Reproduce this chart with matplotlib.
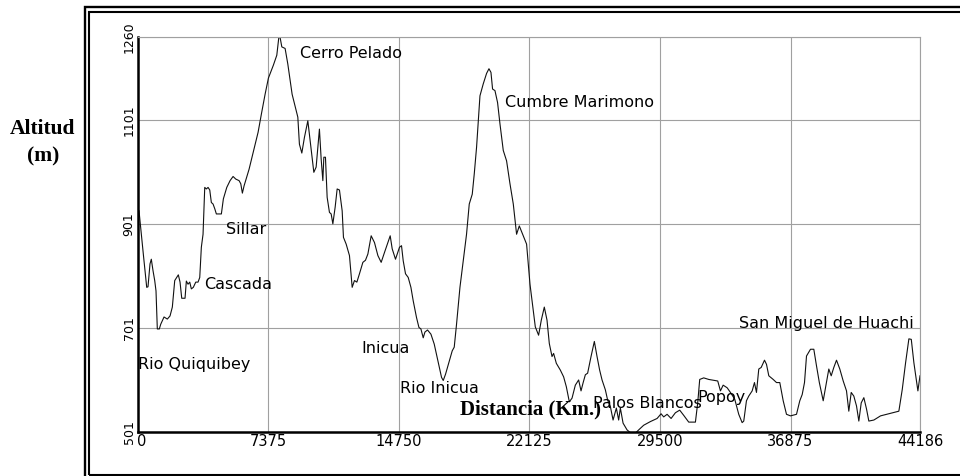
import matplotlib.pyplot as plt
from matplotlib.patches import Rectangle
from matplotlib.transforms import Bbox, TransformedBbox

# perfil de altitud a lo largo del recorrido
distancia = [0, 85, 215, 328, 520, 593, 706, 780, 876, 972, 1045, 1119, 1232, 1311, 1498,
             1684, 1837, 1967, 2102, 2215, 2306, 2402, 2498, 2684, 2758, 2854, 2950, 3040,
             3153, 3289, 3419, 3515, 3605, 3701, 3797, 3888, 3984, 4080, 4170, 4267, 4363,
             4453, 4736, 4849, 5041, 5227, 5397, 5549, 5736, 5832, 5922, 6018, 6301, 6583,
             6810, 6996, 7205, 7392, 7674, 7866, 7979, 8053, 8149, 8335, 8488, 8731, 8917,
             9053, 9143, 9279, 9426, 9618, 9748, 9957, 10087, 10273, 10370, 10466, 10522,
             10613, 10709, 10839, 10935, 11031, 11161, 11274, 11404, 11557, 11630, 11783,
             11969, 12122, 12251, 12387, 12534, 12726, 12873, 13009, 13195, 13382, 13574,
             13760, 13947, 14269, 14382, 14569, 14794, 14908, 15004, 15134, 15286, 15439,
             15569, 15755, 15891, 16004, 16134, 16230, 16377, 16569, 16755, 16942, 17168,
             17264, 17394, 17586, 17772, 17885, 18015, 18208, 18394, 18580, 18733, 18903,
             19016, 19146, 19338, 19524, 19711, 19846, 19959, 20050, 20185, 20332, 20468,
             20654, 20841, 21033, 21220, 21406, 21559, 21785, 21971, 22163, 22350, 22463,
             22649, 22802, 22971, 23124, 23254, 23407, 23497, 23650, 23876, 24062, 24215,
             24384, 24537, 24723, 24910, 25045, 25158, 25289, 25418, 25610, 25797, 25949,
             26096, 26232, 26419, 26549, 26701, 26854, 27040, 27170, 27266, 27419, 27645,
             28001, 28300, 28583, 28961, 29340, 29566, 29713, 29905, 30131, 30374, 30617,
             30843, 31126, 31504, 31634, 31747, 31973, 32256, 32765, 32917, 33070, 33296,
             33482, 33725, 33951, 34143, 34234, 34386, 34516, 34709, 34839, 34952, 35082,
             35218, 35405, 35518, 35648, 35896, 36083, 36269, 36461, 36647, 36873, 37212,
             37398, 37534, 37664, 37777, 38003, 38190, 38342, 38502, 38720, 38850, 39037,
             39172, 39319, 39471, 39658, 39850, 40036, 40166, 40302, 40449, 40601, 40732,
             40867, 41015, 41167, 41297, 41580, 41958, 42523, 42992, 43185, 43372, 43558,
             43694, 43841, 44067, 44186]
altitud = [930, 926, 881, 843, 779, 780, 824, 833, 811, 792, 772, 699, 699, 708, 722,
           718, 724, 741, 792, 798, 803, 789, 758, 758, 791, 785, 789, 776,
           779, 789, 789, 798, 856, 881, 971, 968, 971, 966, 942, 939, 930,
           920, 920, 949, 971, 984, 992, 987, 984, 978, 960, 974, 1006, 1045,
           1077, 1112, 1150, 1181, 1206, 1225, 1259, 1259, 1241, 1238, 1208, 1150, 1125,
           1106, 1054, 1037, 1067, 1099, 1061, 1000, 1010, 1083, 1026, 984, 1029,
           1029, 952, 923, 920, 901, 933, 968, 966, 926, 875, 862,
           840, 779, 792, 789, 805, 827, 831, 843, 878, 865, 840,
           827, 846, 878, 853, 833, 856, 859, 830, 805, 798, 779,
           753, 721, 702, 699, 682, 693, 697, 689, 670, 641, 606,
           600, 612, 635, 657, 664, 708, 779, 830, 881, 939, 958,
           997, 1048, 1147, 1170, 1190, 1199, 1192, 1160, 1157, 1134, 1093,
           1042, 1022, 978, 939, 881, 897, 878, 862, 785, 734, 703,
           687, 716, 741, 716, 671, 646, 652, 633, 620, 607, 588,
           559, 566, 591, 601, 580, 595, 611, 614, 646, 675, 646,
           620, 601, 582, 562, 550, 524, 547, 524, 547, 518, 505,
           495, 505, 514, 521, 527, 536, 530, 535, 527, 538, 543,
           533, 520, 520, 557, 602, 605, 602, 599, 580, 591, 586,
           577, 564, 535, 519, 522, 561, 570, 580, 596, 577, 622,
           625, 639, 631, 609, 602, 596, 596, 561, 535, 532, 535,
           561, 573, 596, 647, 660, 660, 628, 596, 561, 586, 622,
           609, 625, 639, 622, 599, 580, 541, 577, 570, 551, 522,
           557, 567, 545, 522, 524, 532, 537, 541, 583, 634, 680,
           679, 634, 580, 609]

x_ticks = [0, 7375, 14750, 22125, 29500, 36875, 44186]
y_ticks = [501, 701, 901, 1101, 1260]

lugares = ['Cerro Pelado', 'Cumbre Marimono', 'Sillar', 'Cascada', 'Rio Quiquibey',
           'Inicua', 'Rio Inicua', 'Palos Blancos', 'Popoy', 'San Miguel de Huachi']
lugar_x = [9183, 20767, 5001, 3758, 30, 12629, 14834, 25740, 31618, 33988]
lugar_y = [1229, 1135, 891, 785, 630, 662, 584, 555, 568, 710]

W, H = 960, 476
fig = plt.figure(figsize=(W / 100, H / 100), dpi=100)
ax = fig.add_axes([137.5 / W, 44 / H, 782.5 / W, 395 / H])


def caja(x0, y0, x1, y1, lw):
    # rectangulo en pixeles medidos desde arriba a la izquierda
    r = Rectangle((x0 / W, 1 - y1 / H), (x1 - x0) / W, (y1 - y0) / H, fill=False,
                  edgecolor='black', lw=lw, transform=fig.transFigure, clip_on=False)
    fig.add_artist(r)


caja(84.5, 7, 970, 480, 1.7)
caja(89, 12, 965, 474.5, 1.5)

ax.plot(distancia, altitud, color='#111111', lw=0.8)
ax.set_xlim(0, 44186)
ax.set_ylim(501, 1260)

ax.set_xticks(x_ticks)
ax.set_xticklabels([str(v) for v in x_ticks], fontsize=10.5)
ax.get_xticklabels()[0].set_ha('left')
ax.set_yticks(y_ticks)
ax.set_yticklabels([])
ax.tick_params(length=0)
ax.tick_params(axis='x', pad=1.5)
ax.grid(color='#a0a0a0', lw=0.8)

# etiquetas verticales del eje y; la superior queda cortada por el borde
corte = TransformedBbox(Bbox([[0, 0], [1, 1 - 23.5 / H]]), fig.transFigure)
for v in y_ticks:
    t = ax.text(-2 / 782.5, v, str(v), transform=ax.get_yaxis_transform(),
                rotation=90, ha='right', va='center', fontsize=9, clip_on=True)
    t.set_clip_box(corte)

for s in ['top', 'right']:
    ax.spines[s].set_color('#a0a0a0')
    ax.spines[s].set_linewidth(0.8)
for s in ['left', 'bottom']:
    ax.spines[s].set_linewidth(1.8)

for nombre, lx, ly in zip(lugares, lugar_x, lugar_y):
    ax.text(lx, ly, nombre, fontsize=11.5, ha='left', va='center')

fig.text(43 / W, 1 - 129 / H, 'Altitud', family='Liberation Serif', weight='bold',
         fontsize=15.5, ha='center', va='center')
fig.text(43 / W, 1 - 156 / H, '(m)', family='Liberation Serif', weight='bold',
         fontsize=15.5, ha='center', va='center')
fig.text(531 / W, 1 - 409 / H, 'Distancia (Km.)', family='Liberation Serif',
         weight='bold', fontsize=15, ha='center', va='center')

fig.savefig('out.png', dpi=100)
